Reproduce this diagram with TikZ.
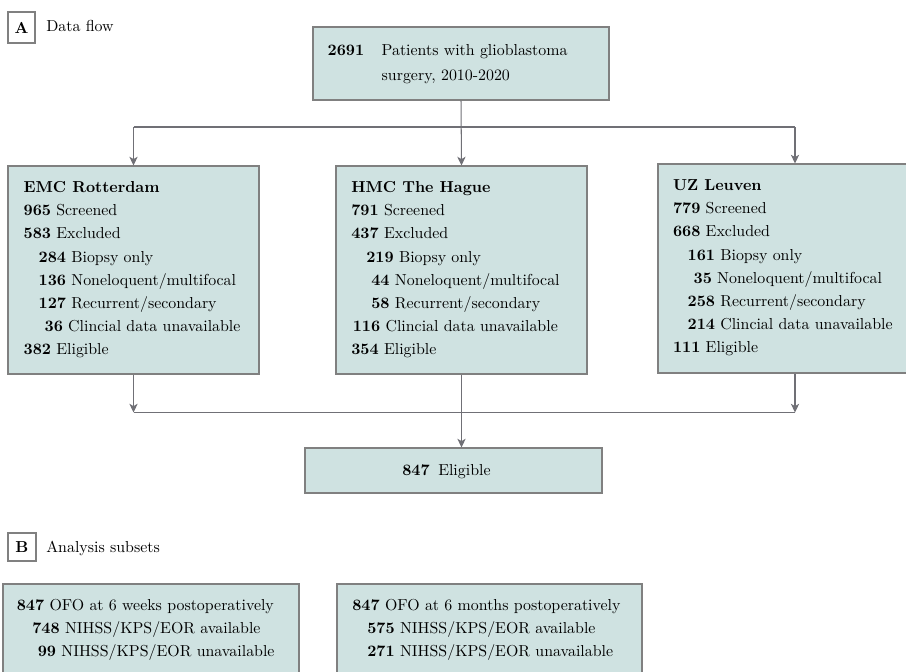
\documentclass[tikz,border=0pt]{standalone}
\usetikzlibrary{arrows.meta,fit}
\newlength\pxu
\setlength\pxu{0.629pt}
\definecolor{boxfill}{RGB}{207,226,225}
\definecolor{boxline}{RGB}{128,128,128}
\definecolor{arrowc}{RGB}{112,112,118}
\newcommand\ind[1]{\hspace*{#1\pxu}}
\begin{document}
\begin{tikzpicture}[x=0.629pt,y=-0.629pt,
  box/.style={draw=boxline,fill=boxfill,line width=0.65pt,inner sep=0pt},
  lab/.style={draw=boxline,fill=white,line width=0.65pt,inner sep=0pt},
  txt/.style={anchor=base west,inner sep=0pt,font=\fontsize{10pt}{12pt}\selectfont},
  conn/.style={draw=arrowc,line width=0.65pt},
  arr/.style={conn,-{Stealth[length=5.5pt,width=5.2pt,inset=1.5pt]}}]
\useasboundingbox (0,0) rectangle (906,671);

% panel labels
\node[lab,fit={(8,12)(35,43)}] (la) {};
\node[inner sep=0pt,font=\bfseries] (lat) at (la.center) {A};
\node[txt] (dataflow) at (46,32) {Data flow};
\node[lab,fit={(8,533)(36,561)}] (lb) {};
\node[inner sep=0pt,font=\bfseries] (lbt) at (lb.center) {B};
\node[txt] (subsets) at (46,552) {Analysis subsets};

% top box
\node[box,fit={(313,27)(609,100)}] (top) {};
\node[txt] (toptxt) at (327.3,56) {\def\arraystretch{1.31}\begin{tabular}[t]{@{}l@{\hspace{17.5\pxu}}l@{}}\textbf{2691} & Patients with glioblastoma\\ & surgery, 2010-2020\end{tabular}};

% site boxes
\node[box,fit={(8,166)(259,374)}] (emc) {};
\node[box,fit={(336,166)(587,374)}] (hmc) {};
\node[box,fit={(658,164)(932,373)}] (uz) {};

\node[txt] (emctxt) at (23.3,192.5) {\def\arraystretch{1.2145}\begin{tabular}[t]{@{}l@{}}
\textbf{EMC Rotterdam}\\
\textbf{965} Screened\\
\textbf{583} Excluded\\
\ind{15}\textbf{284} Biopsy only\\
\ind{15}\textbf{136} Noneloquent/multifocal\\
\ind{15}\textbf{127} Recurrent/secondary\\
\ind{21}\textbf{36} Clincial data unavailable\\
\textbf{382} Eligible
\end{tabular}};

\node[txt] (hmctxt) at (351,192.5) {\def\arraystretch{1.2145}\begin{tabular}[t]{@{}l@{}}
\textbf{HMC The Hague}\\
\textbf{791} Screened\\
\textbf{437} Excluded\\
\ind{15}\textbf{219} Biopsy only\\
\ind{20}\textbf{44} Noneloquent/multifocal\\
\ind{20}\textbf{58} Recurrent/secondary\\
\ind{1.5}\textbf{116} Clincial data unavailable\\
\textbf{354} Eligible
\end{tabular}};

\node[txt] (uztxt) at (672.7,190.5) {\def\arraystretch{1.2145}\begin{tabular}[t]{@{}l@{}}
\textbf{UZ Leuven}\\
\textbf{779} Screened\\
\textbf{668} Excluded\\
\ind{14.6}\textbf{161} Biopsy only\\
\ind{20.6}\textbf{35} Noneloquent/multifocal\\
\ind{14.6}\textbf{258} Recurrent/secondary\\
\ind{14.6}\textbf{214} Clincial data unavailable\\
\textbf{111} Eligible
\end{tabular}};

% eligible
\node[box,fit={(305,448)(602,493)}] (elig) {};
\node[txt] (eligtxt) at (402,475.5) {\textbf{847}\hspace{8.5\pxu}Eligible};

% analysis subsets
\node[box,fit={(3,584)(299,690)}] (sub1) {};
\node[box,fit={(337,584)(642,690)}] (sub2) {};
\node[txt] (sub1txt) at (16.5,610.5) {\def\arraystretch{1.215}\begin{tabular}[t]{@{}l@{}}
\textbf{847} OFO at 6 weeks postoperatively\\
\ind{15.5}\textbf{748} NIHSS/KPS/EOR available\\
\ind{21}\textbf{99} NIHSS/KPS/EOR unavailable
\end{tabular}};
\node[txt] (sub2txt) at (352,610.5) {\def\arraystretch{1.215}\begin{tabular}[t]{@{}l@{}}
\textbf{847} OFO at 6 months postoperatively\\
\ind{15}\textbf{575} NIHSS/KPS/EOR available\\
\ind{15}\textbf{271} NIHSS/KPS/EOR unavailable
\end{tabular}};

% connectors
\coordinate (split) at (0,127);
\coordinate (merge) at (0,412.5);
\draw[arr] (top.south) -- (hmc.north);
\draw[conn] (split -| emc.north) -- (split -| uz.north);
\draw[arr] (split -| emc.north) -- (emc.north);
\draw[arr] (split -| uz.north) -- (uz.north);
\draw[arr] (emc.south) -- (emc.south |- merge);
\draw[arr] (uz.south) -- (uz.south |- merge);
\draw[conn] (emc.south |- merge) -- (uz.south |- merge);
\draw[arr] (hmc.south) -- (hmc.south |- elig.north);
\end{tikzpicture}
\end{document}
